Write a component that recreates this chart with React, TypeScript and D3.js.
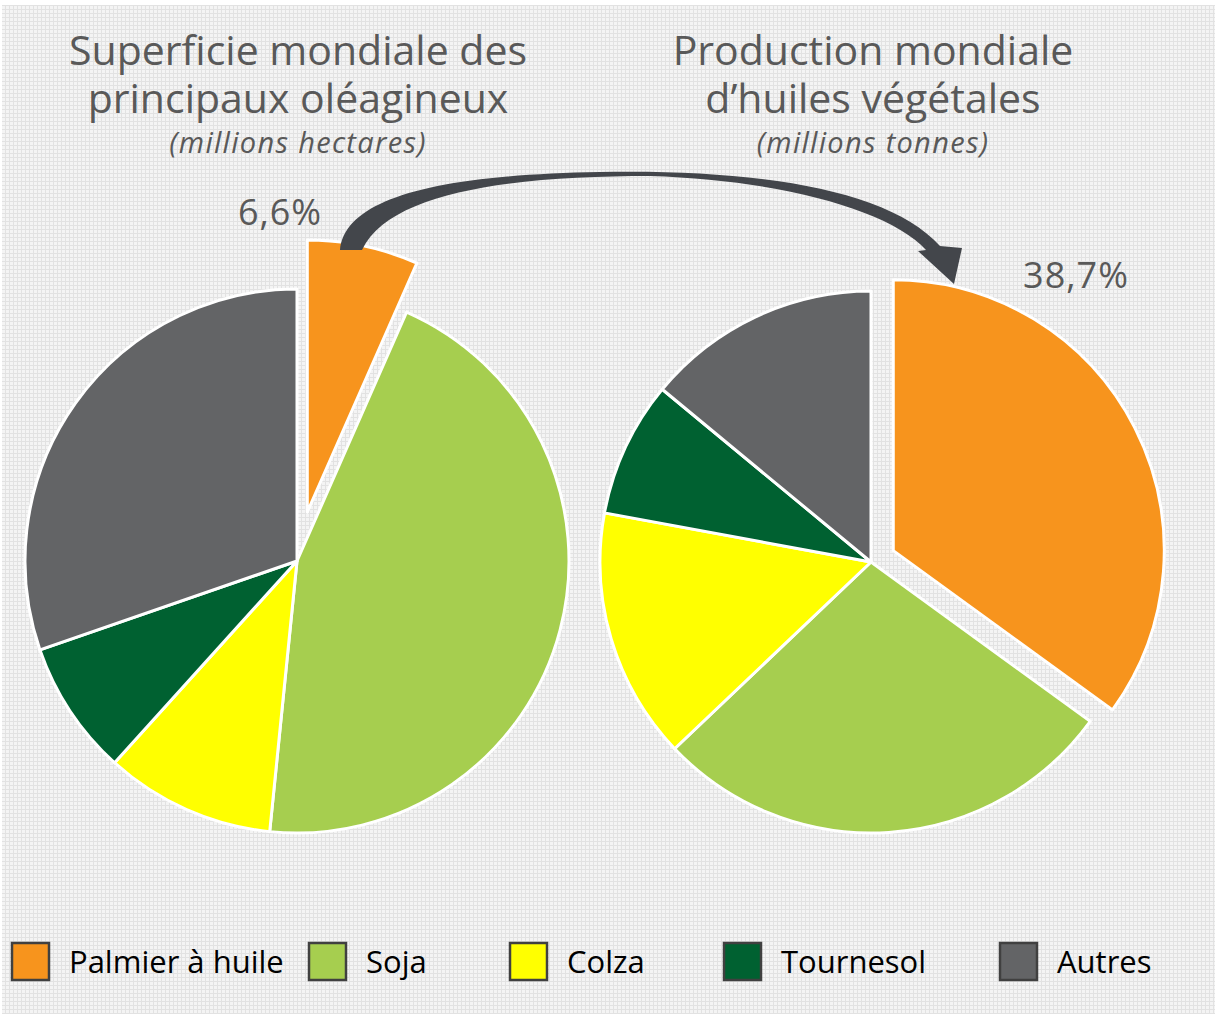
import { useRef, useEffect } from 'react';
import * as d3 from 'd3';

const W = 1215;
const H = 1014;

const categories = ['Palmier à huile', 'Soja', 'Colza', 'Tournesol', 'Autres'];
const colors = ['#f7941d', '#a6ce4f', '#ffff00', '#006131', '#636466'];
// share of each crop, read from the wedges (%)
const surfaceValues = [6.6, 45.0, 10.1, 8.0, 30.3];
const productionValues = [35.0, 27.9, 15.0, 8.1, 14.0];
const surfaceTitle = ['Superficie mondiale des', 'principaux oléagineux', '(millions hectares)'];
const productionTitle = ['Production mondiale', 'd’huiles végétales', '(millions tonnes)'];
const calloutLabels = ['6,6%', '38,7%'];
const legendX = [12, 309, 510, 724, 1000];

const FONT = '"Open Sans", "Noto Sans", sans-serif';
const TEXT = '#595959';

export default function App() {
  const svgRef = useRef<SVGSVGElement>(null);

  useEffect(() => {
    const svg = d3.select(svgRef.current);
    svg.selectAll('*').remove();

    // background with fine grid texture
    const defs = svg.append('defs');
    const pat = defs.append('pattern').attr('id', 'grid')
      .attr('width', 4).attr('height', 4).attr('patternUnits', 'userSpaceOnUse');
    pat.append('rect').attr('width', 4).attr('height', 4).attr('fill', '#f4f4f4');
    pat.append('rect').attr('x', 0).attr('y', 1).attr('width', 4).attr('height', 1).attr('fill', '#e2e2e2');
    pat.append('rect').attr('x', 1).attr('y', 0).attr('width', 1).attr('height', 4).attr('fill', '#e2e2e2');
    svg.append('rect').attr('width', W).attr('height', H).attr('fill', '#fff');
    svg.append('rect').attr('x', 2).attr('y', 5).attr('width', W - 2).attr('height', H - 5)
      .attr('fill', 'url(#grid)');

    const pie = d3.pie<number>().sort(null).value(d => d);

    const drawPie = (values: number[], cx: number, cy: number, r: number, explode: number) => {
      const arc = d3.arc<d3.PieArcDatum<number>>().innerRadius(0).outerRadius(r);
      const g = svg.append('g').attr('transform', `translate(${cx},${cy})`);
      g.selectAll('path').data(pie(values)).enter()
        .append('path')
        .attr('d', arc)
        .attr('transform', (d, i) => {
          if (i !== 0) return null;
          const mid = (d.startAngle + d.endAngle) / 2;
          return `translate(${Math.sin(mid) * explode},${-Math.cos(mid) * explode})`;
        })
        .attr('fill', (d, i) => colors[i])
        .attr('stroke', '#fff')
        .attr('stroke-width', 3)
        .attr('stroke-linejoin', 'round');
    };

    drawPie(surfaceValues, 297, 561, 272, 50);
    drawPie(productionValues, 871, 562, 271, 25);

    // titles: two main lines in one text block, then the italic unit line
    const title = (lines: string[], x: number) => {
      const t = svg.append('text')
        .attr('text-anchor', 'middle')
        .attr('font-family', FONT)
        .attr('font-size', 41)
        .attr('fill', TEXT);
      t.append('tspan').attr('x', x).attr('y', 65).text(lines[0]);
      t.append('tspan').attr('x', x).attr('y', 113).text(lines[1]);
      svg.append('text')
        .attr('x', x).attr('y', 153)
        .attr('text-anchor', 'middle')
        .attr('font-family', FONT)
        .attr('font-size', 29)
        .attr('font-style', 'italic')
        .attr('letter-spacing', 1.3)
        .attr('fill', TEXT)
        .text(lines[2]);
    };
    title(surfaceTitle, 298);
    title(productionTitle, 873);

    // curved arrow from palm area to palm production
    svg.append('path')
      .attr('d', 'M340,250 C345,200 430,175 600,172 C760,169 890,190 940,246 L962,248 L954,284 L918,251 L926,250 C890,210 780,180 650,176 C520,176 390,190 362,250 Z')
      .attr('fill', '#43464b');

    // callout percentages
    svg.append('text').attr('x', 280).attr('y', 225).attr('text-anchor', 'middle')
      .attr('font-family', FONT).attr('font-size', 36).attr('letter-spacing', 1).attr('fill', TEXT)
      .text(calloutLabels[0]);
    svg.append('text').attr('x', 1076).attr('y', 288).attr('text-anchor', 'middle')
      .attr('font-family', FONT).attr('font-size', 36).attr('letter-spacing', 1).attr('fill', TEXT)
      .text(calloutLabels[1]);

    // legend
    const lg = svg.append('g');
    categories.forEach((c, i) => {
      lg.append('rect').attr('x', legendX[i]).attr('y', 943).attr('width', 37).attr('height', 37)
        .attr('fill', colors[i]).attr('stroke', '#404040').attr('stroke-width', 2.5);
      lg.append('text').attr('x', legendX[i] + 57).attr('y', 973)
        .attr('font-family', FONT).attr('font-size', 31).attr('fill', '#000').text(c);
    });
  }, []);

  return <svg ref={svgRef} width={W} height={H} style={{ position: 'absolute', left: 0, top: 0 }} />;
}
